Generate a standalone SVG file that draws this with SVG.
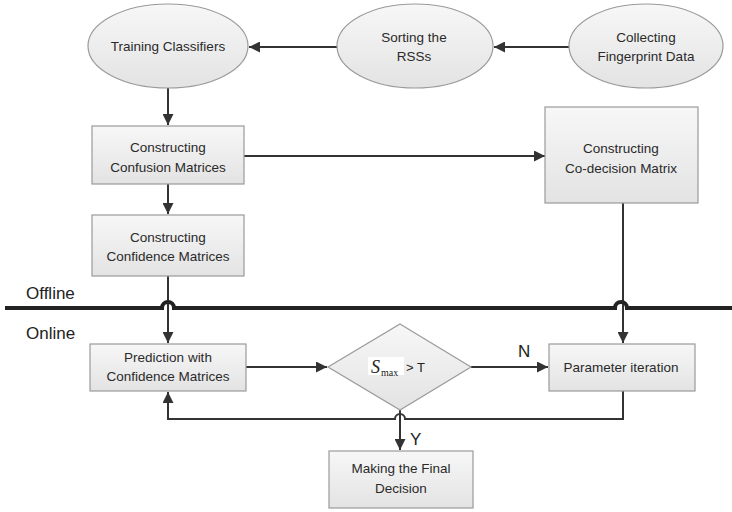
<svg xmlns="http://www.w3.org/2000/svg" width="732" height="512" viewBox="0 0 732 512">
<defs>
<linearGradient id="g" x1="0" y1="0" x2="0" y2="1"><stop offset="0" stop-color="#f7f7f7"/><stop offset="1" stop-color="#e3e3e3"/></linearGradient>
<marker id="ah" viewBox="0 0 10 10" refX="10" refY="5" markerWidth="11" markerHeight="11" markerUnits="userSpaceOnUse" orient="auto"><path d="M0,0 L10,5 L0,10 z" fill="#333"/></marker>
<style>
.n{fill:url(#g);stroke:#9a9a9a;stroke-width:1.2}
.t{font-family:"Liberation Sans",Arial,sans-serif;font-size:13.5px;fill:#2a2a2a;text-anchor:middle}
.c{fill:none;stroke:#333;stroke-width:2}
.l{font-family:"Liberation Sans",Arial,sans-serif;font-size:17px;fill:#222}
</style>
</defs>
<rect width="732" height="512" fill="#fff"/>
<g id="connectors">
<path class="c" d="M337,47 H249" marker-end="url(#ah)"/>
<path class="c" d="M569,47 H494" marker-end="url(#ah)"/>
<path class="c" d="M168,88 V125" marker-end="url(#ah)"/>
<path class="c" d="M244,156 H545" marker-end="url(#ah)"/>
<path class="c" d="M168,184 V214" marker-end="url(#ah)"/>
<path class="c" d="M168,276 V343" marker-end="url(#ah)"/>
<path class="c" d="M623,203 V343" marker-end="url(#ah)"/>
<path class="c" d="M246,367 H327" marker-end="url(#ah)"/>
<path class="c" d="M471,367 H548" marker-end="url(#ah)"/>
<path class="c" d="M623,391 V419 H405 A5,5 0 0 0 395,419 H168 V392" marker-end="url(#ah)"/>
<path class="c" d="M400,410 V450" marker-end="url(#ah)"/>
</g>
<g id="divider">
<path d="M5,308 H162 A6,6 0 0 1 174,308 H615 A6,6 0 0 1 627,308 H732" fill="none" stroke="#222" stroke-width="4"/>
<text class="l" x="26" y="299">Offline</text>
<text class="l" x="26" y="339">Online</text>
</g>
<g id="training"><ellipse class="n" cx="168" cy="46" rx="80" ry="42"/><text class="t" x="168" y="51">Training Classifiers</text></g>
<g id="sorting"><ellipse class="n" cx="415" cy="46" rx="78" ry="42"/><text class="t" x="414" y="42">Sorting the</text><text class="t" x="414" y="61">RSSs</text></g>
<g id="collecting"><ellipse class="n" cx="646" cy="46" rx="77" ry="42"/><text class="t" x="646" y="42">Collecting</text><text class="t" x="646" y="61">Fingerprint Data</text></g>
<g id="confusion"><rect class="n" x="92" y="126" width="152" height="58"/><text class="t" x="168" y="152">Constructing</text><text class="t" x="168" y="172">Confusion Matrices</text></g>
<g id="codecision"><rect class="n" x="545" y="107" width="153" height="96"/><text class="t" x="621" y="153">Constructing</text><text class="t" x="621" y="173">Co-decision Matrix</text></g>
<g id="confidence"><rect class="n" x="92" y="215" width="152" height="61"/><text class="t" x="168" y="242">Constructing</text><text class="t" x="168" y="261">Confidence Matrices</text></g>
<g id="prediction"><rect class="n" x="90" y="344" width="156" height="47"/><text class="t" x="168" y="362">Prediction with</text><text class="t" x="168" y="381">Confidence Matrices</text></g>
<g id="decision"><polygon class="n" points="400,324 471,367 400,410 328,367"/><rect x="368" y="357" width="36" height="18" fill="#fff"/><text x="371" y="373" font-family="Liberation Serif,serif" font-style="italic" font-size="18" fill="#222">S</text><text x="381" y="376" font-family="Liberation Serif,serif" font-size="10" fill="#222">max</text><text x="406" y="372" font-family="Liberation Sans,Arial,sans-serif" font-size="13" fill="#222">&gt; T</text></g>
<g id="parameter"><rect class="n" x="549" y="344" width="146" height="47"/><text class="t" x="621" y="372">Parameter iteration</text></g>
<g id="making"><rect class="n" x="329" y="451" width="144" height="57"/><text class="t" x="401" y="473">Making the Final</text><text class="t" x="401" y="493">Decision</text></g>
<text class="l" x="518" y="357">N</text>
<text class="l" x="410" y="445">Y</text>
</svg>
